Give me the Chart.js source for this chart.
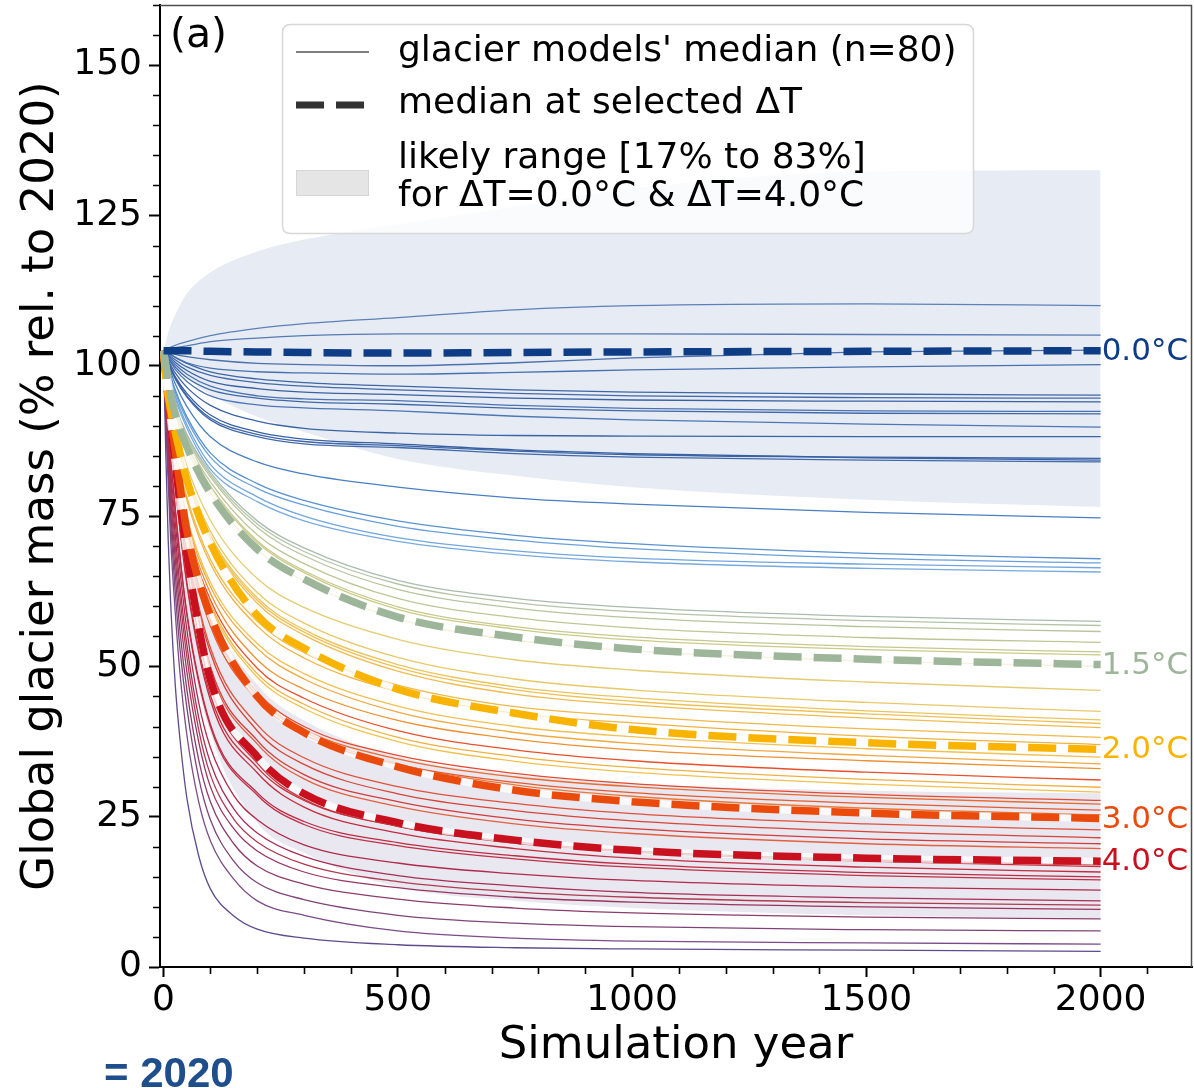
<!DOCTYPE html>
<html><head><meta charset="utf-8">
<script src="https://cdn.jsdelivr.net/npm/chart.js@4.4.1/dist/chart.umd.min.js"></script>
<style>html,body{margin:0;padding:0;background:#fff;}#wrap{width:1194px;height:1088px;position:relative;}</style>
</head><body><div id="wrap"><canvas id="c" width="1194" height="1088"></canvas></div>
<script>
// ---------------- DATA ----------------
const YEARS = [0, 5, 10, 25, 50, 100, 200, 300, 500, 750, 1000, 1500, 2000];
const YEARS_FAST = [0, 5, 10, 15, 25, 35, 50, 75, 100, 150, 200, 300, 500, 750, 1000, 1500, 2000];
const X_TICKS = [0, 500, 1000, 1500, 2000];
const Y_TICKS = [0, 25, 50, 75, 100, 125, 150];
const MEDIAN_LABELS = ['0.0°C', '1.5°C', '2.0°C', '3.0°C', '4.0°C'];

const MEDIAN_00 = [102.5, 102.5, 102.5, 102.5, 102.5, 102.4, 102.3, 102.2, 102.1, 102.2, 102.3, 102.4, 102.5];
const MEDIAN_15 = [102.5, 100.0, 97.5, 92.0, 86.5, 78.8, 69.5, 64.5, 58.2, 54.9, 52.9, 51.2, 50.3];
const MEDIAN_20 = [102.5, 98.0, 95.0, 89.0, 81.0, 70.5, 58.5, 53.0, 46.2, 42.2, 39.5, 37.3, 36.2];
const MEDIAN_30 = [102.5, 98.5, 95.0, 86.0, 72.5, 58.5, 45.0, 39.0, 33.3, 29.4, 27.5, 25.6, 24.7];
const MEDIAN_40 = [102.5, 98.5, 94.5, 83.7, 68.5, 47.8, 35.0, 28.8, 24.0, 21.1, 19.4, 18.1, 17.6];

const RANGE_00_UPPER = [102.5, 104.0, 105.5, 108.5, 112.0, 115.5, 119.0, 121.0, 123.5, 126.5, 129.5, 132.3, 132.5];
const RANGE_00_LOWER = [102.5, 102.0, 101.5, 100.0, 98.0, 95.2, 91.5, 89.0, 84.5, 81.7, 79.8, 77.7, 76.5];
const RANGE_40_UPPER = [102.5, 99.5, 96.5, 88.0, 76.0, 60.0, 47.0, 41.0, 35.0, 32.0, 30.5, 29.3, 28.9];
const RANGE_40_LOWER = [102.5, 97.0, 91.0, 75.0, 57.0, 39.0, 24.0, 19.0, 13.3, 11.0, 9.8, 8.6, 8.1];

const CURVES_DARK_BLUE = [
  [102.5, 102.7, 102.9, 103.4, 104.0, 105.0, 106.2, 107.0, 108.0, 109.3, 110.0, 110.3, 110.0],
  [102.5, 102.6, 102.7, 103.0, 103.3, 104.0, 104.6, 105.0, 105.3, 105.3, 105.3, 105.2, 105.1],
  [102.5, 102.4, 102.3, 101.9, 101.5, 101.0, 100.4, 100.2, 100.0, 100.5, 101.3, 102.3, 102.6],
  [102.5, 102.3, 102.1, 101.4, 100.5, 99.6, 99.0, 98.8, 98.6, 98.9, 99.3, 99.8, 100.2],
  [102.5, 102.3, 102.1, 101.4, 100.4, 99.0, 97.8, 97.2, 96.6, 96.0, 95.6, 95.3, 95.1],
  [102.5, 102.2, 101.9, 101.0, 99.8, 98.4, 97.2, 96.6, 96.0, 95.4, 95.0, 94.7, 94.6],
  [102.5, 102.1, 101.7, 100.6, 99.2, 97.4, 96.2, 95.6, 95.2, 94.6, 94.3, 94.1, 94.0],
  [102.5, 102.0, 101.5, 100.2, 98.6, 96.6, 95.0, 94.5, 94.2, 93.4, 92.9, 92.5, 92.4],
  [102.5, 101.9, 101.3, 99.8, 98.0, 96.0, 94.6, 94.0, 93.6, 92.9, 92.5, 92.1, 92.0],
  [102.5, 101.8, 101.2, 99.4, 97.4, 95.0, 93.5, 93.0, 92.5, 91.6, 91.0, 90.3, 89.8],
  [102.5, 101.7, 100.9, 98.8, 96.4, 93.4, 90.8, 89.6, 88.8, 88.4, 88.3, 88.2, 88.2],
  [102.5, 101.6, 100.6, 98.2, 95.4, 91.8, 89.0, 87.8, 87.0, 86.0, 85.4, 84.7, 84.3],
  [102.5, 101.5, 100.5, 98.0, 95.0, 91.3, 88.6, 87.4, 86.7, 85.8, 85.2, 84.8, 84.6],
  [102.5, 101.5, 100.4, 97.8, 94.8, 91.0, 88.2, 87.0, 86.4, 85.4, 84.8, 84.3, 84.0]
];
const CURVES_LIGHT_BLUE = [
  [102.5, 101.4, 100.2, 97.0, 93.2, 88.2, 84.0, 82.0, 79.8, 78.0, 77.0, 75.6, 74.7],
  [102.5, 101.2, 99.8, 96.0, 91.5, 85.5, 80.4, 77.6, 74.2, 71.8, 70.4, 68.8, 67.9],
  [102.5, 101.1, 99.6, 95.6, 91.0, 84.8, 79.6, 76.8, 73.3, 71.0, 69.6, 68.0, 67.2],
  [102.5, 101.0, 99.4, 95.0, 90.2, 83.6, 78.2, 75.0, 71.4, 69.2, 68.0, 67.0, 66.4],
  [102.5, 100.9, 99.2, 94.6, 89.6, 82.8, 77.4, 74.2, 70.8, 68.6, 67.4, 66.3, 65.7]
];
const CURVES_OLIVE = [
  [102.5, 100.3, 98.0, 93.5, 88.6, 82.3, 74.2, 69.7, 64.3, 61.3, 59.8, 58.3, 57.5],
  [102.5, 100.2, 97.9, 93.4, 88.3, 81.9, 73.7, 69.1, 63.7, 60.6, 59.1, 57.6, 56.8],
  [102.5, 100.2, 97.8, 93.2, 88.0, 81.5, 73.1, 68.4, 62.8, 59.7, 58.1, 56.6, 55.8],
  [102.5, 100.1, 97.7, 92.8, 87.5, 80.7, 71.9, 67.1, 61.3, 58.1, 56.4, 54.8, 54.0],
  [102.5, 100.0, 97.5, 92.5, 87.0, 80.0, 70.9, 65.9, 59.9, 56.6, 54.9, 53.3, 52.4],
  [102.5, 100.0, 97.4, 92.4, 86.8, 79.7, 70.6, 65.6, 59.5, 56.2, 54.4, 52.8, 51.9],
  [102.5, 99.9, 97.3, 92.0, 86.2, 78.9, 69.4, 64.2, 57.9, 54.4, 52.6, 50.9, 50.0]
];
const CURVES_YELLOW = [
  [102.5, 98.5, 95.7, 90.1, 83.3, 74.3, 64.6, 59.8, 54.5, 51.1, 49.4, 47.4, 46.0],
  [102.5, 98.3, 95.3, 89.3, 82.1, 72.5, 62.3, 57.2, 51.5, 47.9, 46.1, 44.0, 42.5],
  [102.5, 98.2, 95.1, 89.0, 81.6, 71.8, 61.4, 56.1, 50.3, 46.6, 44.8, 42.6, 41.1],
  [102.5, 98.2, 95.1, 88.9, 81.4, 71.5, 61.0, 55.7, 49.8, 46.1, 44.2, 42.1, 40.5],
  [102.5, 98.1, 95.0, 88.7, 81.2, 71.2, 60.5, 55.2, 49.2, 45.4, 43.6, 41.4, 39.8],
  [102.5, 97.4, 93.5, 86.4, 78.1, 67.8, 57.5, 52.3, 46.9, 43.3, 41.7, 39.6, 38.2],
  [102.5, 97.3, 93.3, 86.1, 77.6, 67.1, 56.7, 51.4, 45.8, 42.2, 40.6, 38.4, 37.0],
  [102.5, 97.1, 92.4, 84.2, 74.8, 64.0, 53.8, 48.8, 43.4, 40.0, 38.3, 36.3, 34.9],
  [102.5, 97.0, 92.2, 84.0, 74.3, 63.3, 53.0, 47.9, 42.4, 39.0, 37.2, 35.2, 33.8],
  [102.5, 98.3, 94.2, 85.8, 74.0, 62.2, 51.1, 46.2, 41.0, 37.9, 36.1, 34.3, 33.0]
];
const CURVES_ORANGE = [
  [102.5, 98.2, 93.9, 85.4, 73.2, 61.1, 49.7, 44.7, 39.3, 36.1, 34.3, 32.4, 31.1],
  [102.5, 98.1, 93.8, 85.1, 72.7, 60.4, 48.8, 43.7, 38.2, 35.0, 33.2, 31.2, 29.9],
  [102.5, 98.1, 93.7, 84.9, 72.4, 59.9, 48.2, 43.0, 37.5, 34.2, 32.4, 30.4, 29.1],
  [102.5, 98.8, 94.3, 84.5, 71.8, 57.6, 45.7, 40.0, 35.2, 32.2, 30.5, 28.7, 27.7],
  [102.5, 98.7, 94.2, 84.4, 71.6, 57.3, 45.2, 39.5, 34.6, 31.6, 30.0, 28.2, 27.1],
  [102.5, 98.7, 94.1, 84.2, 71.2, 56.7, 44.4, 38.7, 33.7, 30.7, 29.0, 27.2, 26.1],
  [102.5, 98.6, 94.8, 85.5, 71.6, 57.7, 45.0, 39.2, 33.8, 30.3, 28.4, 26.4, 25.3]
];
const CURVES_RED = [
  [102.5, 98.5, 94.5, 84.2, 69.8, 53.1, 40.3, 34.8, 30.0, 27.2, 25.5, 23.8, 22.8],
  [102.5, 98.5, 94.4, 83.9, 69.3, 52.3, 39.3, 33.7, 28.8, 26.0, 24.3, 22.5, 21.5],
  [102.5, 98.4, 94.3, 83.6, 68.9, 50.0, 37.7, 32.0, 27.5, 24.6, 23.0, 21.3, 20.5],
  [102.5, 98.4, 94.2, 83.5, 68.6, 49.5, 37.1, 31.3, 26.7, 23.8, 22.2, 20.5, 19.7],
  [102.5, 97.4, 92.2, 80.3, 64.0, 45.2, 33.2, 27.7, 23.4, 20.8, 19.3, 17.8, 17.0],
  [102.5, 98.2, 93.9, 82.8, 66.5, 46.7, 33.9, 27.9, 23.4, 20.6, 19.1, 17.6, 16.7],
  [102.5, 97.3, 92.1, 80.0, 63.5, 44.4, 32.3, 26.6, 22.3, 19.7, 18.1, 16.6, 15.8],
  [102.5, 96.4, 90.3, 76.3, 58.8, 40.4, 29.0, 24.2, 20.7, 18.5, 17.1, 15.7, 15.0],
  [102.5, 96.3, 90.2, 76.1, 58.5, 40.0, 28.6, 23.7, 20.2, 18.0, 16.6, 15.2, 14.5]
];
// purple / dark red curves use YEARS_FAST
const CURVES_PURPLE = [
  [102.5, 95.0, 89.0, 83.0, 74.0, 66.0, 56.0, 44.0, 36.5, 28.5, 24.5, 20.3, 17.3, 15.5, 14.4, 13.3, 12.8],
  [102.5, 94.5, 88.0, 81.5, 72.0, 63.5, 53.5, 41.5, 34.0, 26.3, 22.3, 18.4, 15.2, 13.5, 12.4, 11.5, 11.0],
  [102.5, 94.0, 87.0, 80.0, 70.0, 61.5, 51.5, 39.5, 32.0, 24.6, 20.8, 17.1, 14.2, 12.5, 11.6, 10.7, 10.3],
  [102.5, 93.5, 86.0, 78.5, 68.0, 59.0, 49.0, 37.5, 30.0, 23.0, 19.3, 15.8, 13.2, 11.6, 10.8, 10.0, 9.6],
  [102.5, 92.5, 84.5, 76.5, 65.5, 56.0, 46.0, 34.5, 27.5, 20.5, 16.8, 13.8, 11.3, 9.8, 9.0, 8.3, 8.0],
  [102.5, 91.5, 83.0, 74.5, 62.5, 53.0, 43.0, 31.5, 24.5, 17.6, 14.0, 11.2, 8.6, 7.3, 6.7, 6.2, 6.0],
  [102.5, 90.0, 80.5, 71.5, 59.0, 49.0, 38.5, 27.5, 21.0, 14.6, 11.0, 8.6, 6.0, 4.8, 4.3, 4.0, 3.8],
  [102.5, 85.0, 71.0, 61.0, 47.0, 38.0, 28.0, 18.5, 13.0, 8.5, 6.3, 4.8, 3.7, 3.2, 3.0, 2.8, 2.6]
];

// ---------------- STYLES ----------------
const STYLE_DARK_BLUE = ['#5c80b8','#5479b3','#4a70ad','#4670ae','#3e66a6','#4369aa','#3a62a3','#4a72b2','#3f68a8','#4c76b6','#3b64a5','#3760a2','#3d65a7','#4169a9'];
const STYLE_LIGHT_BLUE = ['#4a7fc0','#5a92d0','#6aa0da','#72a6de','#78aadf'];
const STYLE_OLIVE = ['#a9bcb0','#b5c4a8','#b8c49e','#bfc695','#c6c88e','#cccb86','#d8cc78'];
const STYLE_YELLOW = ['#e4cc72','#e9c866','#ecc45c','#eec055','#f0bc4e','#f2b848','#f2b242','#f2c050','#f0a840','#ee9030'];
const STYLE_ORANGE = ['#e8502a','#f0b040','#f3c24e','#e64a2e','#ea6a30','#e55a30','#eb7a36'];
const STYLE_RED = ['#e0503a','#d84438','#d23c3a','#e46040','#c8303c','#cc3440','#c42c40','#bf2a44','#c03048'];
const STYLE_PURPLE = ['#b02a4c','#a82e55','#b03a50','#9a3560','#8c3c6c','#7e4478','#7a4c88','#5e4a8c'];
const MEDIAN_COLORS = ['#0f3d85','#9db69a','#f8b400','#ea4a0c','#c8101e'];
const FONT = "'DejaVu Sans', sans-serif";

// ---------------- BUILD ----------------
const pts = (arr, xs = YEARS) => xs.map((yr, i) => ({x: yr, y: arr[i]}));
const datasets = [];
datasets.push({data: pts(RANGE_00_UPPER), fill: '+1', backgroundColor: '#e7ecf4', borderWidth: 0, order: 100});
datasets.push({data: pts(RANGE_00_LOWER), fill: false, borderWidth: 0, order: 100});
datasets.push({data: pts(RANGE_40_UPPER), fill: '+1', backgroundColor: '#e9e7ef', borderWidth: 0, order: 100});
datasets.push({data: pts(RANGE_40_LOWER), fill: false, borderWidth: 0, order: 100});

[[CURVES_DARK_BLUE, STYLE_DARK_BLUE, YEARS], [CURVES_LIGHT_BLUE, STYLE_LIGHT_BLUE, YEARS], [CURVES_OLIVE, STYLE_OLIVE, YEARS],
 [CURVES_YELLOW, STYLE_YELLOW, YEARS], [CURVES_ORANGE, STYLE_ORANGE, YEARS], [CURVES_RED, STYLE_RED, YEARS], [CURVES_PURPLE, STYLE_PURPLE, YEARS_FAST]]
.forEach(([curves, colors, xs]) => curves.forEach((c, i) => datasets.push({
  data: pts(c, xs), borderColor: colors[i % colors.length], borderWidth: 1.3, fill: false, order: 50
})));

const MEDIANS = [MEDIAN_00, MEDIAN_15, MEDIAN_20, MEDIAN_30, MEDIAN_40];
MEDIANS.forEach((m, i) => {
  if (i > 0) datasets.push({data: pts(m), borderColor: 'rgba(255,255,255,0.75)', borderWidth: 7, fill: false, order: 10});
  datasets.push({data: pts(m), borderColor: MEDIAN_COLORS[i], borderWidth: 7.5, borderDash: [28, 12], fill: false, order: 5});
});

const decor = {
  id: 'decor',
  afterDraw(chart) {
    const {ctx, chartArea: a, scales: {x, y}} = chart;
    ctx.save();
    ctx.strokeStyle = '#4d4d4d'; ctx.lineWidth = 1.5;
    ctx.beginPath(); ctx.moveTo(a.left, a.top + 0.5); ctx.lineTo(a.right, a.top + 0.5);
    ctx.moveTo(a.right - 0.5, a.top); ctx.lineTo(a.right - 0.5, a.bottom); ctx.stroke();
    // minor ticks
    ctx.strokeStyle = '#000'; ctx.lineWidth = 1.6;
    ctx.beginPath();
    for (let v = 5; v <= y.max; v += 5) {
      if (Y_TICKS.includes(v)) continue;
      const py = Math.round(y.getPixelForValue(v)) + 0.5;
      ctx.moveTo(a.left - 7, py); ctx.lineTo(a.left, py);
    }
    for (let v = 100; v <= x.max; v += 100) {
      if (X_TICKS.includes(v)) continue;
      const px = Math.round(x.getPixelForValue(v)) + 0.5;
      ctx.moveTo(px, a.bottom); ctx.lineTo(px, a.bottom + 7);
    }
    ctx.stroke();
    // end labels
    ctx.font = '31px ' + FONT; ctx.textAlign = 'left'; ctx.textBaseline = 'middle';
    MEDIANS.forEach((m, i) => {
      ctx.fillStyle = MEDIAN_COLORS[i];
      ctx.fillText(MEDIAN_LABELS[i], x.getPixelForValue(YEARS[YEARS.length - 1]) + 1, y.getPixelForValue(m[m.length - 1]) + 1);
    });
    ctx.fillStyle = '#000'; ctx.font = '41px ' + FONT; ctx.textBaseline = 'alphabetic';
    ctx.fillText('(a)', 170, 47);
    // legend
    const lx = 282.5, ly = 24.5, lw = 691, lh = 209, r = 8;
    ctx.beginPath();
    ctx.moveTo(lx + r, ly); ctx.lineTo(lx + lw - r, ly); ctx.quadraticCurveTo(lx + lw, ly, lx + lw, ly + r);
    ctx.lineTo(lx + lw, ly + lh - r); ctx.quadraticCurveTo(lx + lw, ly + lh, lx + lw - r, ly + lh);
    ctx.lineTo(lx + r, ly + lh); ctx.quadraticCurveTo(lx, ly + lh, lx, ly + lh - r);
    ctx.lineTo(lx, ly + r); ctx.quadraticCurveTo(lx, ly, lx + r, ly); ctx.closePath();
    ctx.fillStyle = 'rgba(255,255,255,0.8)'; ctx.fill();
    ctx.strokeStyle = '#d8d8d8'; ctx.lineWidth = 1.5; ctx.stroke();
    ctx.strokeStyle = '#555'; ctx.lineWidth = 1.5;
    ctx.beginPath(); ctx.moveTo(296, 52); ctx.lineTo(369, 52); ctx.stroke();
    ctx.strokeStyle = '#333'; ctx.lineWidth = 7; ctx.setLineDash([28, 12]);
    ctx.beginPath(); ctx.moveTo(296, 105); ctx.lineTo(364, 105); ctx.stroke();
    ctx.setLineDash([]);
    ctx.fillStyle = '#e5e5e5'; ctx.fillRect(296, 170, 73, 26);
    ctx.strokeStyle = '#d6d6d6'; ctx.lineWidth = 1; ctx.strokeRect(296.5, 170.5, 72, 25);
    ctx.fillStyle = '#000'; ctx.font = '36px ' + FONT; ctx.textBaseline = 'middle';
    ctx.fillText("glacier models' median (n=80)", 398, 52);
    ctx.fillText('median at selected ΔT', 398, 104);
    ctx.fillText('likely range [17% to 83%]', 398, 159);
    ctx.fillText('for ΔT=0.0°C & ΔT=4.0°C', 398, 197);
    ctx.fillStyle = '#1f4e8c'; ctx.font = "bold 42px 'Liberation Sans', Arial, sans-serif"; ctx.textBaseline = 'alphabetic';
    ctx.fillText('= 2020', 104, 1087);
    ctx.restore();
  }
};

const zeroPad = s => { s.paddingTop = 0; s.paddingBottom = 0; s.paddingLeft = 0; s.paddingRight = 0; };

new Chart(document.getElementById('c'), {
  type: 'line',
  data: {datasets},
  options: {
    responsive: false, animation: false, events: [],
    layout: {padding: {top: 5, right: 2, left: 0, bottom: 0}},
    elements: {point: {radius: 0}, line: {cubicInterpolationMode: 'monotone', borderCapStyle: 'butt'}},
    plugins: {legend: {display: false}, tooltip: {enabled: false}},
    scales: {
      x: {
        type: 'linear', min: -7.5, max: 2195,
        afterBuildTicks: s => { s.ticks = X_TICKS.map(v => ({value: v})); },
        afterFit: s => { s.height = 121; zeroPad(s); },
        ticks: {autoSkip: false, color: '#000', font: {family: FONT, size: 36}, padding: 2, maxRotation: 0, callback: v => String(v)},
        grid: {drawOnChartArea: false, tickLength: 10, tickWidth: 2, tickColor: '#000'},
        border: {color: '#000', width: 2},
        title: {display: true, text: 'Simulation year', color: '#000', font: {family: FONT, size: 45}, padding: {top: 0, bottom: 15}}
      },
      y: {
        type: 'linear', min: 0, max: 160,
        afterBuildTicks: s => { s.ticks = Y_TICKS.map(v => ({value: v})); },
        afterFit: s => { s.width = 160; zeroPad(s); },
        ticks: {autoSkip: false, color: '#000', font: {family: FONT, size: 36}, padding: 7, callback: v => String(v)},
        grid: {drawOnChartArea: false, tickLength: 11, tickWidth: 2, tickColor: '#000'},
        border: {color: '#000', width: 2},
        title: {display: true, text: 'Global glacier mass (% rel. to 2020)', color: '#000', font: {family: FONT, size: 45}, padding: {top: 14, bottom: 0}}
      }
    }
  },
  plugins: [decor]
});
</script></body></html>
